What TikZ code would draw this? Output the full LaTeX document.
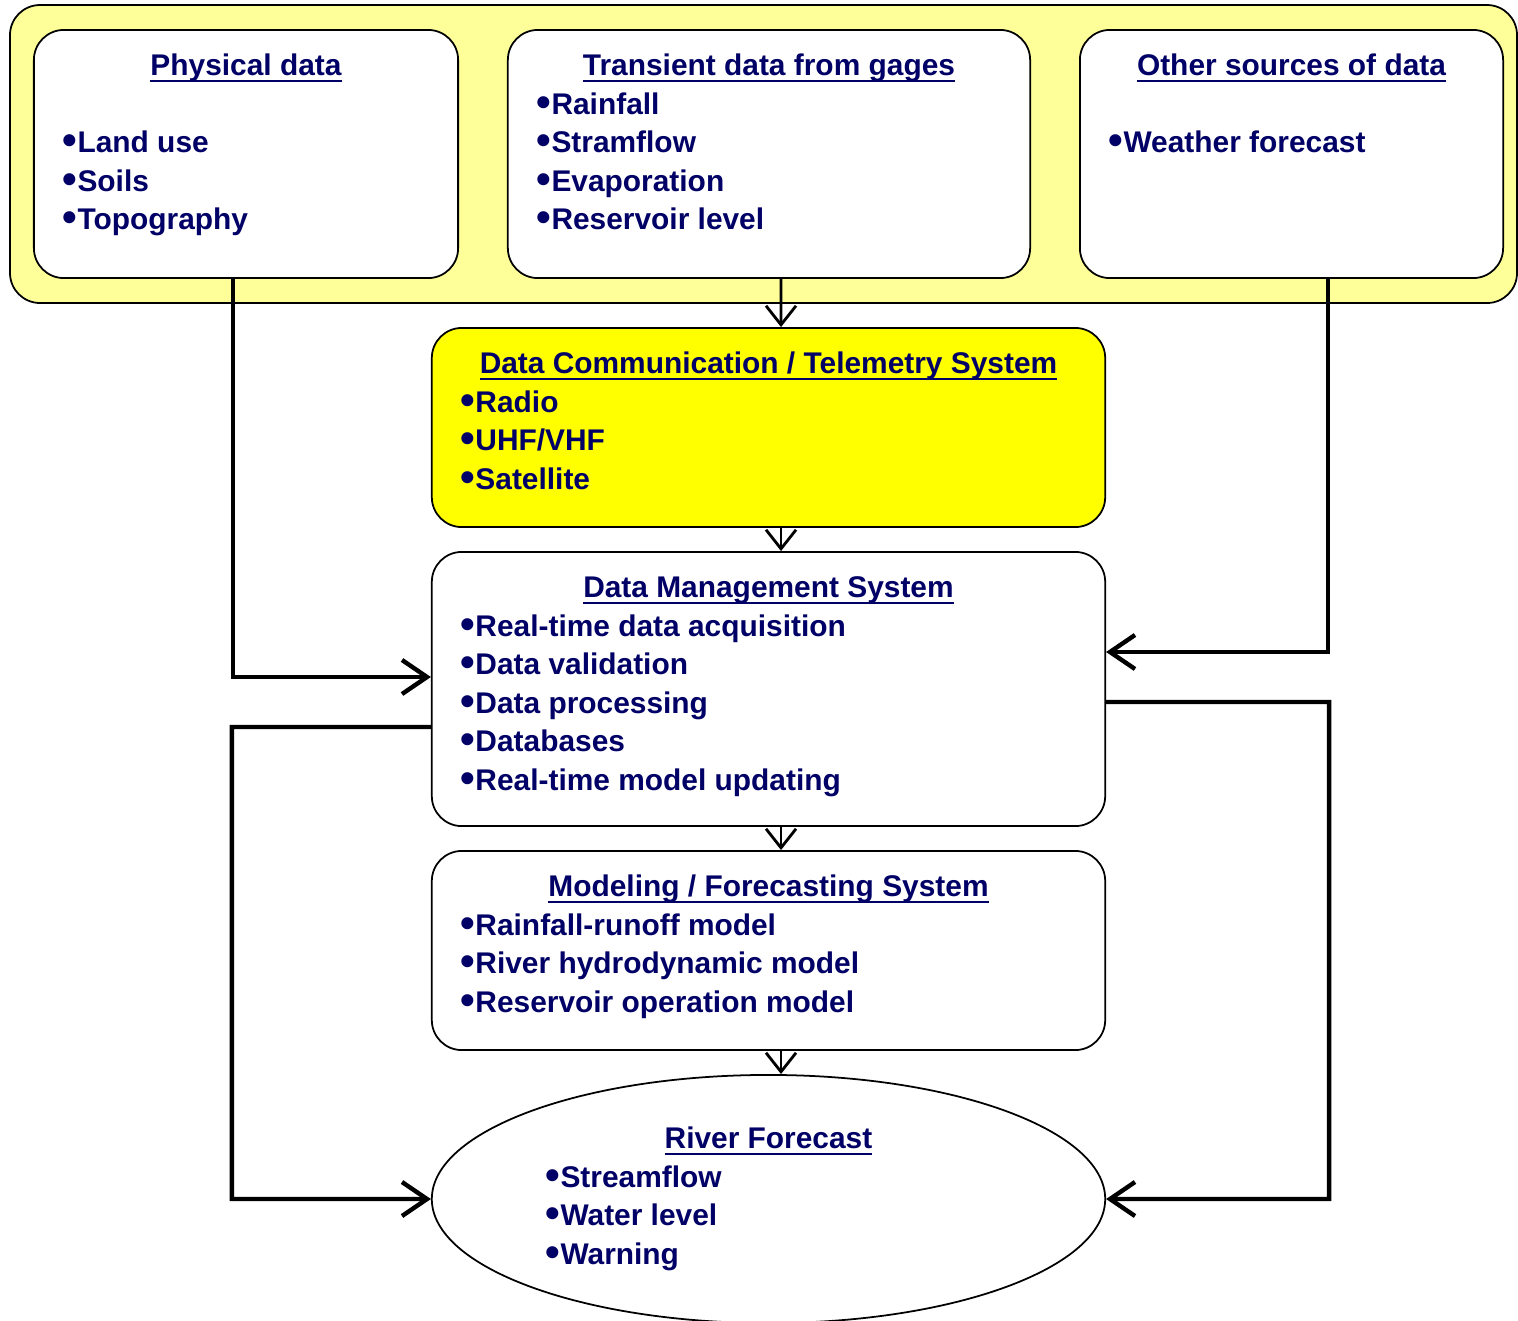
\documentclass[tikz,border=0pt]{standalone}
\usepackage{fontspec}
\setmainfont{Liberation Sans}
\usepackage{xcolor}
\usepackage{graphicx}
\usepackage{tikz}
\usetikzlibrary{arrows.meta, shapes.geometric}
\definecolor{srcblock}{RGB}{255, 255, 153}
\definecolor{telblock}{RGB}{255, 255, 0}
\definecolor{labelnavy}{RGB}{0, 0, 102}
\newcommand{\headul}[1]{\underline{\smash{#1}}}
\newcommand{\headline}[1]{{\centering\strut\headul{#1}\par}}
\newcommand{\bul}{\raisebox{-0.06em}{\scalebox{1.4}{•}}}
\tikzset{
	sysbox/.style={draw=black, line width=0.5pt, fill=white, rounded corners=0.3cm,
		inner xsep=0.29cm, inner ysep=0.19cm, text=labelnavy,
		font=\fontsize{8.5}{10.95}\selectfont\bfseries},
	riverbox/.style={ellipse, draw=black, line width=0.5pt, fill=white, inner sep=0pt,
		minimum width=6.73cm, minimum height=2.48cm, text=labelnavy,
		font=\fontsize{8.5}{10.95}\selectfont\bfseries},
	thinflow/.style={line width=0.8pt, -{Straight Barb[length=0.19cm, width=0.3cm]}},
	thickflow/.style={line width=1.25pt, -{Straight Barb[length=0.25cm, width=0.34cm]}}
}

\begin{document}
\begin{tikzpicture}[x=0.01cm, y=-0.01cm]
			\useasboundingbox (0,0) rectangle (1518,1320);

			% Sources of data (yellow band)
			\draw[fill=srcblock, line width=0.5pt, rounded corners=0.3cm] (10,5) rectangle (1517,303);
			\node[sysbox] (phys) at (246,154) {\parbox[t][2.10cm][t]{3.66cm}{\headline{Physical data}\strut\\%
				\bul Land use\\\bul Soils\\\bul Topography}};
			\node[sysbox] (trans) at (769,154) {\parbox[t][2.10cm][t]{4.64cm}{\headline{Transient data from gages}%
				\bul Rainfall\\\bul Stramflow\\\bul Evaporation\\\bul Reservoir level}};
			\node[sysbox] (other) at (1291.5,154) {\parbox[t][2.10cm][t]{3.65cm}{\headline{Other sources of data}\strut\\%
				\bul Weather forecast}};

			% Central chain
			\node[sysbox, fill=telblock] (tele) at (768.5,427.5) {\parbox[t][1.61cm][t]{6.15cm}{%
				\headline{Data Communication / Telemetry System}%
				\bul Radio\\\bul UHF/VHF\\\bul Satellite}};
			\node[sysbox] (dms) at (768.5,689) {\parbox[t][2.36cm][t]{6.15cm}{%
				\headline{Data Management System}%
				\bul Real-time data acquisition\\\bul Data validation\\\bul Data processing\\%
				\bul Databases\\\bul Real-time model updating}};
			\node[sysbox] (model) at (768.5,950.5) {\parbox[t][1.61cm][t]{6.15cm}{%
				\headline{Modeling / Forecasting System}%
				\bul Rainfall-runoff model\\\bul River hydrodynamic model\\\bul Reservoir operation model}};
			\node[riverbox] (river) at (768.5,1199) {\parbox{4.45cm}{\headline{River Forecast}%
				\bul Streamflow\\\bul Water level\\\bul Warning\strut}};

			% Flow down the centre
			\draw[thinflow] ([xshift=0.12cm]trans.south) -- ([xshift=0.125cm]tele.north);
			\draw[thinflow] ([xshift=0.125cm]tele.south) -- ([xshift=0.125cm]dms.north);
			\draw[thinflow] ([xshift=0.125cm]dms.south) -- ([xshift=0.125cm]model.north);
			\draw[thinflow] ([xshift=0.125cm]model.south) -- ([xshift=0.125cm]river.north);

			% Side loops
			\draw[thickflow] ([xshift=-0.13cm]phys.south) |- ([yshift=0.12cm]dms.west);
			\draw[thickflow] ([xshift=0.365cm]other.south) |- ([yshift=0.37cm]dms.east);
			\draw[thickflow] ([yshift=-0.38cm]dms.west) -| ++(-199,472) -- (river.west);
			\draw[thickflow] ([yshift=-0.13cm]dms.east) -| ++(223,497) -- (river.east);

\end{tikzpicture}
\end{document}
